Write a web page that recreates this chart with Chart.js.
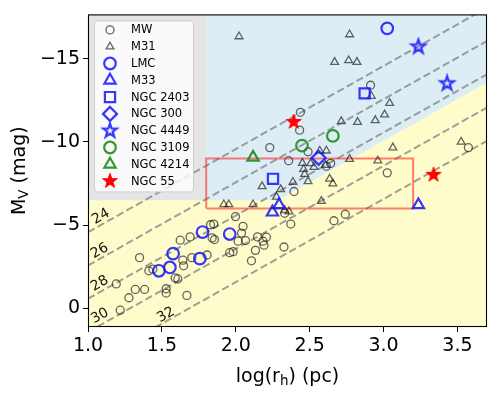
<!DOCTYPE html>
<html>
<head>
<meta charset="utf-8">
<script src="https://cdn.jsdelivr.net/npm/chart.js@4.4.0/dist/chart.umd.min.js"></script>
<style>
    html, body { margin: 0; padding: 0; background: #fff; }
    #plot { display: block; }
</style>
</head>
<body>
<canvas id="plot" width="498" height="393"></canvas>
<script>
// x = log(r_h) [pc], y = M_V [mag]
const mwPoints = [
    [1.829, -5.02], [1.851, -5.06], [1.840, -4.23], [1.856, -4.13], [1.691, -4.29],
    [1.624, -4.09], [1.349, -3.04], [1.642, -2.89], [1.703, -3.04], [1.806, -3.20],
    [1.412, -2.25], [1.439, -2.35], [1.647, -2.55], [1.590, -1.82], [1.608, -1.76],
    [1.191, -1.46], [1.320, -1.13], [1.383, -1.13], [1.529, -1.17], [1.529, -0.91],
    [1.277, -0.63], [1.669, -0.77], [1.218, 0.12], [1.998, -5.51], [2.049, -4.92],
    [2.039, -4.52], [2.016, -4.03], [2.066, -4.07], [1.959, -3.34], [1.982, -3.40],
    [2.106, -2.85], [2.147, -4.29], [2.207, -4.27], [2.184, -4.03], [2.191, -3.79],
    [2.133, -3.48], [2.326, -3.68], [2.372, -5.06], [2.331, -5.71], [2.664, -5.26],
    [2.741, -5.65], [2.394, -7.02], [2.230, -9.66], [2.358, -8.87], [2.489, -9.41],
    [2.613, -8.54], [2.642, -8.71], [2.437, -11.78], [2.432, -10.71], [2.912, -13.41],
    [3.025, -8.14], [3.574, -9.66]
];
const m31Points = [
    [2.022, -16.34], [2.669, -14.80], [2.764, -14.90], [2.820, -14.80], [2.770, -16.46],
    [2.917, -12.76], [3.041, -12.33], [3.007, -11.64], [2.944, -11.30], [2.824, -11.19],
    [2.714, -11.24], [3.063, -9.66], [3.525, -10.00], [2.770, -8.97], [2.961, -8.87],
    [2.613, -9.47], [2.568, -9.47], [2.451, -8.73], [2.507, -8.71], [2.459, -8.36],
    [2.466, -8.06], [2.529, -8.48], [2.608, -8.60], [2.178, -7.33], [2.304, -7.15],
    [2.387, -7.59], [2.489, -7.63], [2.275, -6.70], [2.635, -7.78], [2.657, -7.49],
    [2.579, -6.44], [1.919, -6.24], [1.953, -6.24], [2.117, -6.24], [2.331, -5.89],
    [2.360, -5.81]
];
const lmcPoints = [[3.025, -16.83], [1.775, -4.58], [1.576, -3.28], [1.554, -2.45], [1.480, -2.25], [1.757, -2.98], [1.959, -4.46]];
const m33Points = [[2.248, -5.77], [2.293, -6.21], [3.236, -6.21]];
const n2403Points = [[2.252, -7.78], [2.872, -12.92]];
const n300Points = [[2.561, -9.04]];
const n4449Points = [[3.236, -15.73], [3.430, -13.52]];
const n3109Points = [[2.448, -9.78], [2.657, -10.36]];
const n4214Points = [[2.117, -9.07]];
const n55Points = [[2.392, -11.20], [3.338, -8.02]];

// constant surface brightness lines: mu = M_V + 5 log r_h + muZero
const muLevels = [24, 26, 28, 30, 32];
const muZero = 23.57;
const muLabelPos = [[1.088, -5.51], [1.079, -3.44], [1.079, -1.48], [1.081, 0.47], [1.527, 0.41]];

// selection box and zones
const boxX = [1.8, 3.2];
const boxY = [-6, -9];
const sizeCut = 1.8;
const brightCut = -6.5;
const muCut = 28.5;

const xTicks = [1.0, 1.5, 2.0, 2.5, 3.0, 3.5];
const yTicks = [0, -5, -10, -15];

const FONT = "'DejaVu Sans', sans-serif";
const GREY = 'rgba(30,30,30,0.68)';
const BLUE = 'rgba(20,20,255,0.85)';
const GREEN = 'rgba(30,140,30,0.9)';

function makeStar(size, R, color, filled, lw) {
    const c = document.createElement('canvas');
    c.width = size;
    c.height = size;
    const g = c.getContext('2d');
    const r = R * 0.39;
    g.beginPath();
    for (let i = 0; i < 10; i++) {
        const rad = i % 2 ? r : R;
        const a = -Math.PI / 2 + i * Math.PI / 5;
        const px = size / 2 + rad * Math.cos(a);
        const py = size / 2 + rad * Math.sin(a);
        if (i) g.lineTo(px, py); else g.moveTo(px, py);
    }
    g.closePath();
    if (filled) {
        g.fillStyle = color;
        g.fill();
    }
    g.strokeStyle = color;
    g.lineWidth = lw;
    g.stroke();
    return c;
}

const blueStar = makeStar(20, 7.2, BLUE, false, 2.2);
const redStar = makeStar(20, 7.8, '#ff0000', true, 1);

function pts(arr) {
    return arr.map(([x, y]) => ({ x, y }));
}

function markerSet(label, arr, style, color, radius, width, order) {
    return {
        label: label,
        data: pts(arr),
        pointStyle: style,
        pointRadius: radius,
        pointBorderColor: color,
        pointBackgroundColor: 'rgba(0,0,0,0)',
        pointBorderWidth: width,
        showLine: false,
        order: order
    };
}

const markerSets = [
    markerSet('MW', mwPoints, 'circle', GREY, 4, 1.3, 10),
    markerSet('M31', m31Points, 'triangle', GREY, 4.5, 1.3, 9),
    markerSet('LMC', lmcPoints, 'circle', BLUE, 5.8, 2.2, 8),
    markerSet('M33', m33Points, 'triangle', BLUE, 6.5, 2.2, 7),
    markerSet('NGC 2403', n2403Points, 'rect', BLUE, 7.2, 2.2, 6),
    markerSet('NGC 300', n300Points, 'rectRot', BLUE, 7, 2.2, 5),
    markerSet('NGC 4449', n4449Points, blueStar, BLUE, 7, 0, 4),
    markerSet('NGC 3109', n3109Points, 'circle', GREEN, 5.8, 2.2, 3),
    markerSet('NGC 4214', n4214Points, 'triangle', GREEN, 6.5, 2.2, 2),
    markerSet('NGC 55', n55Points, redStar, '#ff0000', 7, 0, 1)
];

const muLines = muLevels.map(mu => ({
    label: 'mu' + mu,
    data: [{ x: 1.0, y: mu - muZero - 5 * 1.0 }, { x: 3.7, y: mu - muZero - 5 * 3.7 }],
    showLine: true,
    borderColor: 'rgba(128,128,128,0.75)',
    borderWidth: 2,
    borderDash: [7.5, 3.5],
    pointRadius: 0,
    order: 12
}));

const boxLine = {
    label: 'box',
    data: pts([[boxX[0], boxY[0]], [boxX[1], boxY[0]], [boxX[1], boxY[1]], [boxX[0], boxY[1]], [boxX[0], boxY[0]]]),
    showLine: true,
    borderColor: 'rgba(255,40,40,0.6)',
    borderWidth: 2,
    pointRadius: 0,
    order: 11
};

// background zones: grey (small & bright), blue (bright, high surface brightness), yellow otherwise
const zonesPlugin = {
    id: 'zones',
    beforeDatasetsDraw(chart) {
        const { ctx, chartArea: a, scales: { x, y } } = chart;
        const P = (vx, vy) => [x.getPixelForValue(vx), y.getPixelForValue(vy)];
        const poly = (list, color) => {
            ctx.beginPath();
            list.forEach(([vx, vy], i) => {
                const [px, py] = P(vx, vy);
                if (i) ctx.lineTo(px, py); else ctx.moveTo(px, py);
            });
            ctx.closePath();
            ctx.fillStyle = color;
            ctx.fill();
        };
        ctx.save();
        ctx.beginPath();
        ctx.rect(a.left, a.top, a.width, a.height);
        ctx.clip();
        ctx.fillStyle = '#fffccb';
        ctx.fillRect(a.left, a.top, a.width, a.height);
        const kneeX = (muCut - muZero - brightCut) / 5;
        poly([
            [sizeCut, y.min], [x.max, y.min], [x.max, muCut - muZero - 5 * x.max],
            [kneeX, brightCut], [sizeCut, brightCut]
        ], '#dcedf5');
        poly([[x.min, y.min], [sizeCut, y.min], [sizeCut, brightCut], [x.min, brightCut]], '#e5e5e5');
        ctx.restore();
    },
    afterDatasetsDraw(chart) {
        const { ctx, chartArea: a, scales: { x, y } } = chart;
        // line labels
        ctx.save();
        ctx.fillStyle = '#111';
        ctx.font = '14px ' + FONT;
        ctx.textAlign = 'center';
        ctx.textBaseline = 'middle';
        muLevels.forEach((mu, i) => {
            const x1 = x.getPixelForValue(1), y1 = y.getPixelForValue(mu - muZero - 5);
            const x2 = x.getPixelForValue(2), y2 = y.getPixelForValue(mu - muZero - 10);
            const ang = Math.atan2(y2 - y1, x2 - x1);
            const [lx, ly] = muLabelPos[i];
            ctx.save();
            ctx.translate(x.getPixelForValue(lx), y.getPixelForValue(ly));
            ctx.rotate(ang);
            ctx.fillText(String(mu), 0, 0);
            ctx.restore();
        });
        ctx.restore();

        // legend
        ctx.save();
        const lx = a.left + 6, ly = a.top + 6, lw = 99, lh = 171;
        ctx.beginPath();
        ctx.roundRect(lx + 0.5, ly + 0.5, lw, lh, 3);
        ctx.fillStyle = 'rgba(255,255,255,0.8)';
        ctx.fill();
        ctx.strokeStyle = '#cfcfcf';
        ctx.lineWidth = 1;
        ctx.stroke();
        ctx.font = '11.5px ' + FONT;
        ctx.textBaseline = 'middle';
        ctx.textAlign = 'left';
        markerSets.forEach((ds, i) => {
            const ry = ly + 9.5 + i * 16.8;
            ctx.strokeStyle = ds.pointBorderColor;
            ctx.fillStyle = 'rgba(0,0,0,0)';
            ctx.lineWidth = ds.pointBorderWidth;
            Chart.helpers.drawPoint(ctx, {
                pointStyle: ds.pointStyle,
                radius: ds.pointRadius,
                borderWidth: ds.pointBorderWidth,
                rotation: 0
            }, lx + 16, ry);
            ctx.fillStyle = '#000';
            ctx.fillText(ds.label, lx + 37, ry + 0.5);
        });
        ctx.restore();
    },
    afterDraw(chart) {
        const { ctx, chartArea: a } = chart;
        ctx.save();
        ctx.strokeStyle = '#000';
        ctx.lineWidth = 1.1;
        ctx.strokeRect(a.left + 0.5, a.top + 0.5, a.width - 1, a.height - 1);

        // axis titles with subscripts
        const drawParts = (parts, cx, cy) => {
            let w = 0;
            parts.forEach(p => {
                ctx.font = (p.sub ? 13.5 : 19) + 'px ' + FONT;
                w += ctx.measureText(p.t).width;
            });
            let px = cx - w / 2;
            parts.forEach(p => {
                ctx.font = (p.sub ? 13.5 : 19) + 'px ' + FONT;
                ctx.fillText(p.t, px, cy + (p.sub ? 4 : 0));
                px += ctx.measureText(p.t).width;
            });
        };
        ctx.fillStyle = '#000';
        ctx.textBaseline = 'middle';
        ctx.textAlign = 'left';
        drawParts([{ t: 'log(r' }, { t: 'h', sub: true }, { t: ') (pc)' }], (a.left + a.right) / 2, 377);
        ctx.save();
        ctx.translate(20, (a.top + a.bottom) / 2);
        ctx.rotate(-Math.PI / 2);
        drawParts([{ t: 'M' }, { t: 'V', sub: true }, { t: ' (mag)' }], 0, 0);
        ctx.restore();
        ctx.restore();
    }
};

const ctx = document.getElementById('plot').getContext('2d');
new Chart(ctx, {
    type: 'scatter',
    data: { datasets: [...markerSets, boxLine, ...muLines] },
    options: {
        responsive: false,
        animation: false,
        devicePixelRatio: 1,
        events: [],
        layout: { padding: { left: 0, top: 10, right: 11, bottom: 0 } },
        plugins: { legend: { display: false }, tooltip: { enabled: false } },
        scales: {
            x: {
                type: 'linear',
                min: 1.0,
                max: 3.7,
                afterFit(scale) { scale.height = 66; },
                afterBuildTicks(scale) { scale.ticks = xTicks.map(v => ({ value: v })); },
                ticks: {
                    callback: v => v.toFixed(1),
                    color: '#000',
                    font: { family: FONT, size: 19 },
                    padding: 3,
                    maxRotation: 0
                },
                grid: { drawOnChartArea: false, tickLength: 5, tickColor: '#000', color: '#000' },
                border: { display: false }
            },
            y: {
                type: 'linear',
                min: -17.67,
                max: 1.13,
                reverse: true,
                afterFit(scale) { scale.width = 88; },
                afterBuildTicks(scale) { scale.ticks = yTicks.map(v => ({ value: v })); },
                ticks: {
                    callback: v => (v < 0 ? '\u2212' + Math.abs(v) : String(v)),
                    color: '#000',
                    font: { family: FONT, size: 19 },
                    padding: 3
                },
                grid: { drawOnChartArea: false, tickLength: 5, tickColor: '#000', color: '#000' },
                border: { display: false }
            }
        }
    },
    plugins: [zonesPlugin]
});
</script>
</body>
</html>
